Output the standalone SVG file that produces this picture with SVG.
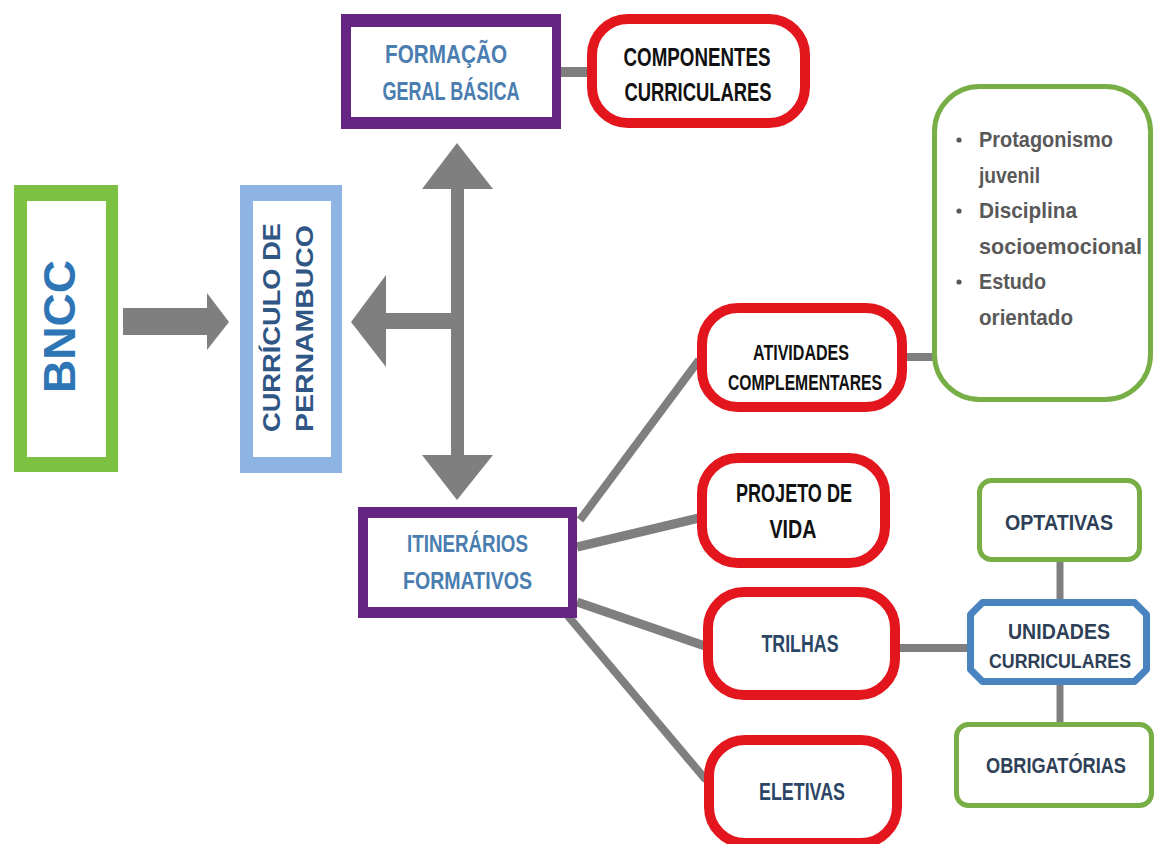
<svg xmlns="http://www.w3.org/2000/svg" width="1156" height="844" viewBox="0 0 1156 844">
<style>
  .lbl { font-family: "Liberation Sans", Arial, sans-serif; font-weight: bold; text-anchor: middle; }
  .blue { fill: #4a7db0; }
  .black { fill: #111111; }
  .navy { fill: #2c4666; }
  .slate { fill: #2e4057; }
  .bul { font-family: "Liberation Sans", Arial, sans-serif; font-weight: bold; fill: #595959; font-size: 22px; }
  .red { fill: #ffffff; stroke: #e3161d; stroke-width: 10; }
  .grn { fill: #ffffff; stroke: #77ae45; stroke-width: 5; }
  .con { stroke: #7f7f7f; fill: none; }
  .arw { fill: #7f7f7f; }
</style>
<rect x="0" y="0" width="1156" height="844" fill="#ffffff"/>

<g id="connectors">
  <line class="con" x1="561" y1="72" x2="589" y2="72" stroke-width="10"/>
  <line class="con" x1="580" y1="520" x2="699" y2="360" stroke-width="8"/>
  <line class="con" x1="577" y1="547" x2="699" y2="518" stroke-width="9"/>
  <line class="con" x1="577" y1="602" x2="705" y2="646" stroke-width="9"/>
  <line class="con" x1="568" y1="616" x2="706" y2="780" stroke-width="8"/>
  <line class="con" x1="905" y1="357" x2="934" y2="357" stroke-width="8"/>
  <line class="con" x1="898" y1="648" x2="969" y2="648" stroke-width="8"/>
  <line class="con" x1="1060" y1="561" x2="1060" y2="601" stroke-width="7"/>
  <line class="con" x1="1060" y1="683" x2="1060" y2="724" stroke-width="7"/>
  <polygon class="arw" points="123,308 207,308 207,293 229,322 207,350 207,335 123,335"/>
  <polygon class="arw" points="457,143 493,189 464,189 464,455 493,455 457,500 422,455 451,455 451,329 386,329 386,367 351,322 386,275 386,313 451,313 451,189 422,189"/>
</g>

<g id="bncc">
  <rect x="14" y="185" width="104" height="287" fill="#7cc142"/>
  <rect x="27" y="201" width="79" height="256" fill="#ffffff"/>
  <text class="lbl" x="75" y="326.5" transform="rotate(-90 75 326.5)" font-size="45" fill="#2e75b6" textLength="133" lengthAdjust="spacingAndGlyphs">BNCC</text>
</g>

<g id="curriculo">
  <rect x="240" y="185" width="102" height="288" fill="#8eb4e3"/>
  <rect x="253" y="201" width="78" height="256" fill="#ffffff"/>
  <text class="lbl" x="280" y="327.5" transform="rotate(-90 280 327.5)" font-size="24" fill="#2f5685" textLength="209" lengthAdjust="spacingAndGlyphs">CURRÍCULO DE</text>
  <text class="lbl" x="313" y="328.5" transform="rotate(-90 313 328.5)" font-size="24" fill="#2f5685" textLength="207" lengthAdjust="spacingAndGlyphs">PERNAMBUCO</text>
</g>

<g id="formacao">
  <rect x="341" y="14" width="220" height="115" fill="#662483"/>
  <rect x="351" y="27" width="201" height="90" fill="#ffffff"/>
  <text class="lbl blue" x="446" y="63" font-size="26" textLength="122" lengthAdjust="spacingAndGlyphs">FORMAÇÃO</text>
  <text class="lbl blue" x="451" y="100" font-size="26" textLength="137" lengthAdjust="spacingAndGlyphs">GERAL BÁSICA</text>
</g>

<g id="componentes">
  <rect class="red" x="592" y="19" width="213" height="104" rx="36"/>
  <text class="lbl black" x="697" y="66" font-size="26" textLength="147" lengthAdjust="spacingAndGlyphs">COMPONENTES</text>
  <text class="lbl black" x="698" y="101" font-size="26" textLength="147" lengthAdjust="spacingAndGlyphs">CURRICULARES</text>
</g>

<g id="itinerarios">
  <rect x="358" y="507" width="219" height="111" fill="#662483"/>
  <rect x="368" y="518" width="200" height="89" fill="#ffffff"/>
  <text class="lbl blue" x="467.5" y="552" font-size="23" textLength="121" lengthAdjust="spacingAndGlyphs">ITINERÁRIOS</text>
  <text class="lbl blue" x="467.5" y="589" font-size="23" textLength="129" lengthAdjust="spacingAndGlyphs">FORMATIVOS</text>
</g>

<g id="atividades">
  <rect class="red" x="702" y="308" width="200" height="99" rx="36"/>
  <text class="lbl black" x="801" y="360" font-size="22" textLength="96" lengthAdjust="spacingAndGlyphs">ATIVIDADES</text>
  <text class="lbl black" x="805" y="390" font-size="22" textLength="154" lengthAdjust="spacingAndGlyphs">COMPLEMENTARES</text>
</g>

<g id="lista">
  <rect class="grn" x="934.5" y="86.5" width="216" height="313" rx="45"/>
  <circle cx="959" cy="140" r="2.6" fill="#595959"/>
  <circle cx="959" cy="211" r="2.6" fill="#595959"/>
  <circle cx="959" cy="282" r="2.6" fill="#595959"/>
  <text class="bul" x="979" y="147" textLength="134" lengthAdjust="spacingAndGlyphs">Protagonismo</text>
  <text class="bul" x="979" y="183" textLength="61" lengthAdjust="spacingAndGlyphs">juvenil</text>
  <text class="bul" x="979" y="218" textLength="98" lengthAdjust="spacingAndGlyphs">Disciplina</text>
  <text class="bul" x="979" y="254" textLength="163" lengthAdjust="spacingAndGlyphs">socioemocional</text>
  <text class="bul" x="979" y="289" textLength="67" lengthAdjust="spacingAndGlyphs">Estudo</text>
  <text class="bul" x="979" y="325" textLength="94" lengthAdjust="spacingAndGlyphs">orientado</text>
</g>

<g id="projeto">
  <rect class="red" x="702" y="458" width="183" height="105" rx="36"/>
  <text class="lbl black" x="794" y="502" font-size="25" textLength="116" lengthAdjust="spacingAndGlyphs">PROJETO DE</text>
  <text class="lbl black" x="793" y="538" font-size="25" textLength="47" lengthAdjust="spacingAndGlyphs">VIDA</text>
</g>

<g id="trilhas">
  <rect class="red" x="708" y="592" width="187" height="103" rx="36"/>
  <text class="lbl navy" x="800" y="652" font-size="24" textLength="77" lengthAdjust="spacingAndGlyphs">TRILHAS</text>
</g>

<g id="eletivas">
  <rect class="red" x="709" y="740" width="188" height="103" rx="36"/>
  <text class="lbl navy" x="802" y="800" font-size="24" textLength="86" lengthAdjust="spacingAndGlyphs">ELETIVAS</text>
</g>

<g id="optativas">
  <rect class="grn" x="979.5" y="480.5" width="160" height="79" rx="12"/>
  <text class="lbl slate" x="1059" y="530" font-size="22" textLength="108" lengthAdjust="spacingAndGlyphs">OPTATIVAS</text>
</g>

<g id="unidades">
  <polygon points="982.5,602.5 1134.5,602.5 1146.5,614.5 1146.5,669.5 1134.5,681.5 982.5,681.5 970.5,669.5 970.5,614.5" fill="#ffffff" stroke="#4a84c0" stroke-width="7" stroke-linejoin="round"/>
  <text class="lbl slate" x="1059" y="639" font-size="22" textLength="102" lengthAdjust="spacingAndGlyphs">UNIDADES</text>
  <text class="lbl slate" x="1060" y="668" font-size="21" textLength="142" lengthAdjust="spacingAndGlyphs">CURRICULARES</text>
</g>

<g id="obrigatorias">
  <rect class="grn" x="956.5" y="724.5" width="195" height="81" rx="12"/>
  <text class="lbl slate" x="1056" y="773" font-size="22" textLength="140" lengthAdjust="spacingAndGlyphs">OBRIGATÓRIAS</text>
</g>
</svg>
